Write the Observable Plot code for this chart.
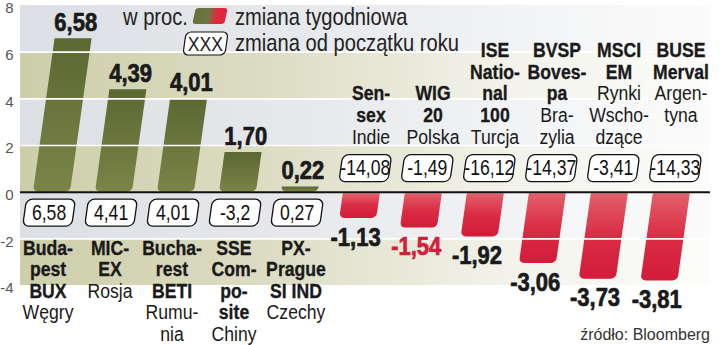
<!DOCTYPE html>
<html><head><meta charset="utf-8">
<script src="https://cdn.jsdelivr.net/npm/d3@7"></script>
<script src="https://cdn.jsdelivr.net/npm/@observablehq/plot@0.6"></script>
<style>
body{margin:0;background:#fff;}
#chart svg{display:block}
</style></head><body><div id="chart"></div>
<script>
// ---- data ----
const indices = ["Budapest BUX","MICEX","Bucharest BETI","SSE Composite","PX-Prague SI IND","Sensex","WIG 20","ISE National 100","BVSP Bovespa","MSCI EM","BUSE Merval"];
const boldLabels = ["Buda-\npest\nBUX","MIC-\nEX","Bucha-\nrest\nBETI","SSE\nCom-\npo-\nsite","PX-\nPrague\nSI IND","Sen-\nsex","WIG\n20","ISE\nNatio-\nnal\n100","BVSP\nBoves-\npa","MSCI\nEM","BUSE\nMerval"];
const countryLabels = ["Węgry","Rosja","Rumu-\nnia","Chiny","Czechy","Indie","Polska","Turcja","Bra-\nzylia","Rynki\nWscho-\ndzące","Argen-\ntyna"];
const weekly = [6.58,4.39,4.01,1.70,0.22,-1.13,-1.54,-1.92,-3.06,-3.73,-3.81];
const ytd = [6.58,4.41,4.01,-3.2,0.27,-14.08,-1.49,-16.12,-14.37,-3.41,-14.33];
const highlight = "WIG 20";
const topAligned = ["BUSE Merval"];
const yTicks = [8,6,4,2,0,-2,-4];
const unitLabel = "w proc.";
const legendLabels = ["zmiana tygodniowa","zmiana od początku roku"];
const legendBoxText = "XXX";
const sourceLabel = "źródło: Bloomberg";

// ---- helpers ----
const FONT = "'Liberation Sans',Arial,sans-serif";
const SKEW = 8;
const comma = s => s.replace(".", ",");
const fmtWeekly = v => comma(v.toFixed(2));
const fmtYtd = v => comma(String(v));
const nLines = s => s.split("\n").length;
const rows = indices.map((name,i)=>({name, weekly:weekly[i], ytd:ytd[i], bold:boldLabels[i], country:countryLabels[i]}));
const pos = rows.filter(d=>d.weekly>=0), neg = rows.filter(d=>d.weekly<0);
const maxNegLines = d3.max(neg, d => nLines(d.bold) + nLines(d.country));
const tailPad = d => topAligned.includes(d.name) ? "\n\u00a0".repeat(maxNegLines - nLines(d.bold) - nLines(d.country)) : "";
const bands = yTicks.slice(0,-1).map((t,i)=>({y1:t, y2:yTicks[i+1], kind: i%2 ? "olive" : "gray"}));

// render wrapper: optional skew of the mark group about y=0, and narrowing of its texts
function styled({skew = false, sx = null} = {}) {
  return function(index, scales, values, dimensions, context, next) {
    const g = next(index, scales, values, dimensions, context);
    if (skew) {
      const y0 = scales.y(0);
      const t = g.getAttribute("transform") || "";
      g.setAttribute("transform", `translate(0,${y0}) skewX(${-SKEW}) translate(0,${-y0}) ${t}`);
    }
    for (const el of g.querySelectorAll("text")) {
      let tr = el.getAttribute("transform");
      if (!tr) {
        const x = +el.getAttribute("x") || 0, y = +el.getAttribute("y") || 0;
        el.removeAttribute("x"); el.removeAttribute("y");
        tr = `translate(${x},${y})`;
      }
      el.setAttribute("transform", tr + (skew ? ` skewX(${SKEW})` : "") + (sx ? ` scale(${sx},1)` : ""));
    }
    return g;
  };
}
const boxSymbol = {draw(ctx) {
  const w = 49, h = 27, r = 6, x0 = -w/2, y0 = -h/2;
  ctx.moveTo(x0 + r, y0);
  ctx.lineTo(x0 + w - r, y0); ctx.arcTo(x0 + w, y0, x0 + w, y0 + r, r);
  ctx.lineTo(x0 + w, y0 + h - r); ctx.arcTo(x0 + w, y0 + h, x0 + w - r, y0 + h, r);
  ctx.lineTo(x0 + r, y0 + h); ctx.arcTo(x0, y0 + h, x0, y0 + h - r, r);
  ctx.lineTo(x0, y0 + r); ctx.arcTo(x0, y0, x0 + r, y0, r);
  ctx.closePath();
}};
const heavy = {fontWeight:"bold", strokeWidth:0.7, strokeLinejoin:"round"};

const chart = Plot.plot({
  width: 720, height: 345,
  marginLeft: 20, marginRight: 10, marginTop: 5, marginBottom: 60,
  style: {fontFamily: FONT, background: "#fff", overflow: "visible"},
  x: {domain: indices, range: [17.2, 706.3], paddingInner: 0.4, paddingOuter: 0.2, axis: null},
  y: {domain: [-4, 8], axis: null},
  marks: [
    Plot.rect(bands.filter(d=>d.kind==="gray"), {y1:"y1", y2:"y2", fill:"url(#bandGray)"}),
    Plot.rect(bands.filter(d=>d.kind==="olive"), {y1:"y1", y2:"y2", fill:"url(#bandOlive)"}),
    Plot.axisY({ticks: yTicks, tickSize: 0, tickPadding: 7, fontSize: 15, fill: "#555", dy: 3, tickFormat: d => String(d)}),
    Plot.barY(pos, {x:"name", y:"weekly", fill:"url(#barGreen)", ry2: 5, render: styled({skew:true})}),
    Plot.barY(neg, {x:"name", y:"weekly", fill:"url(#barRed)", ry2: 5, insetTop: 1.5, render: styled({skew:true})}),
    Plot.ruleY(yTicks.filter(t => t !== 0 && t !== yTicks[0] && t !== yTicks[yTicks.length-1]), {stroke:"#fff", strokeWidth:1.6}),
    Plot.ruleY([0], {stroke:"#111", strokeWidth:2}),
    // weekly value labels
    Plot.text(pos, {x:"name", y:"weekly", text: d=>fmtWeekly(d.weekly), dy:-16, fontSize:25, ...heavy, fill:"#1a1a1a", stroke:"#1a1a1a", render: styled({skew:true, sx:0.88})}),
    Plot.text(neg.filter(d=>d.name!==highlight), {x:"name", y:"weekly", text: d=>fmtWeekly(d.weekly), dy:19, fontSize:25, ...heavy, fill:"#1a1a1a", stroke:"#1a1a1a", render: styled({skew:true, sx:0.88})}),
    Plot.text(neg.filter(d=>d.name===highlight), {x:"name", y:"weekly", text: d=>fmtWeekly(d.weekly), dy:19, fontSize:25, ...heavy, fill:"#d3203a", stroke:"#d3203a", render: styled({skew:true, sx:0.88})}),
    // year-to-date boxes
    Plot.dot(pos, {x:"name", y:()=>0, dy:20.5, symbol: boxSymbol, fill:"#fff", stroke:"#111", strokeWidth:1.3, render: styled({skew:true})}),
    Plot.dot(neg, {x:"name", y:()=>0, dy:-24, symbol: boxSymbol, fill:"#fff", stroke:"#111", strokeWidth:1.3, render: styled({skew:true})}),
    Plot.text(pos, {x:"name", y:()=>0, dy:20.5, text: d=>fmtYtd(d.ytd), fontSize:22, fill:"#111", render: styled({skew:true, sx:0.8})}),
    Plot.text(neg, {x:"name", y:()=>0, dy:-24, text: d=>fmtYtd(d.ytd), fontSize:22, fill:"#111", render: styled({skew:true, sx:0.8})}),
    // category labels (below for gains, above for losses)
    Plot.text(pos, {x:"name", y:()=>0, dy:47, dx:-4, text:"bold", lineAnchor:"top", lineHeight:1.03, fontSize:21, fontWeight:"bold", fill:"#1a1a1a", stroke:"#1a1a1a", strokeWidth:0.35, render: styled({sx:0.84})}),
    Plot.text(pos, {x:"name", y:()=>0, dy:47, dx:-4, text: d=>"\u00a0\n".repeat(nLines(d.bold)) + d.country, lineAnchor:"top", lineHeight:1.03, fontSize:21, fill:"#1a1a1a", render: styled({sx:0.84})}),
    Plot.text(neg, {x:"name", y:()=>0, dy:-48, dx:9, text: d=>d.bold + "\n\u00a0".repeat(nLines(d.country)) + tailPad(d), lineAnchor:"bottom", lineHeight:1.04, fontSize:21, fontWeight:"bold", fill:"#1a1a1a", stroke:"#1a1a1a", strokeWidth:0.35, render: styled({sx:0.84})}),
    Plot.text(neg, {x:"name", y:()=>0, dy:-48, dx:9, text: d=>d.country + tailPad(d), lineAnchor:"bottom", lineHeight:1.04, fontSize:21, fill:"#1a1a1a", render: styled({sx:0.84})})
  ]
});

const svg = d3.select(chart);
const defs = svg.insert("defs", ":first-child");
function grad(id, stops, vertical) {
  const g = defs.append("linearGradient").attr("id", id).attr("x1",0).attr("y1",0).attr("x2", vertical ? 0 : 1).attr("y2", vertical ? 1 : 0);
  for (const [o,c] of stops) g.append("stop").attr("offset", o).attr("stop-color", c);
}
grad("bandGray", [[0,"#dcdfe4"],[0.4,"#e6e8eb"],[0.8,"#f5f6f7"],[1,"#fbfbfb"]], false);
grad("bandOlive", [[0,"#cdcea9"],[0.35,"#dcdcc3"],[0.72,"#f3f3ec"],[1,"#fcfcfa"]], false);
grad("barGreen", [[0,"#5c6832"],[1,"#7b8448"]], true);
grad("barRed", [[0,"#e4606a"],[0.5,"#da2c45"],[1,"#d21c3a"]], true);
grad("legendSwatch", [[0,"#66703c"],[0.45,"#6f763f"],[0.7,"#e0283f"],[1,"#e3233c"]], false);

const lg = svg.append("g").attr("font-family", FONT).attr("font-size", 24).attr("fill", "#222").attr("text-anchor", "start");
const ltext = (x, y, s, size, anchor) => lg.append("text").attr("transform", `translate(${x},${y}) scale(0.84,1)`)
  .attr("font-size", size || 24).attr("text-anchor", anchor || "start").text(s);
ltext(123, 25, unitLabel);
lg.append("rect").attr("x", -16).attr("y", -8).attr("width", 32).attr("height", 16).attr("rx", 3)
  .attr("fill", "url(#legendSwatch)").attr("transform", "translate(210,16) skewX(-12)");
ltext(235, 25, legendLabels[0]);
lg.append("rect").attr("x", -21).attr("y", -11.5).attr("width", 42).attr("height", 23).attr("rx", 5)
  .attr("fill", "#fff").attr("stroke", "#111").attr("stroke-width", 1.2).attr("transform", "translate(205.5,43.5) skewX(-8)");
ltext(205.5, 51, legendBoxText, 21, "middle");
ltext(235, 51, legendLabels[1]);
svg.append("text").attr("x", 710).attr("y", 340).attr("text-anchor", "end")
  .attr("font-family", FONT).attr("font-size", 16).attr("fill", "#333").text(sourceLabel);

document.getElementById("chart").append(chart);
</script></body></html>
